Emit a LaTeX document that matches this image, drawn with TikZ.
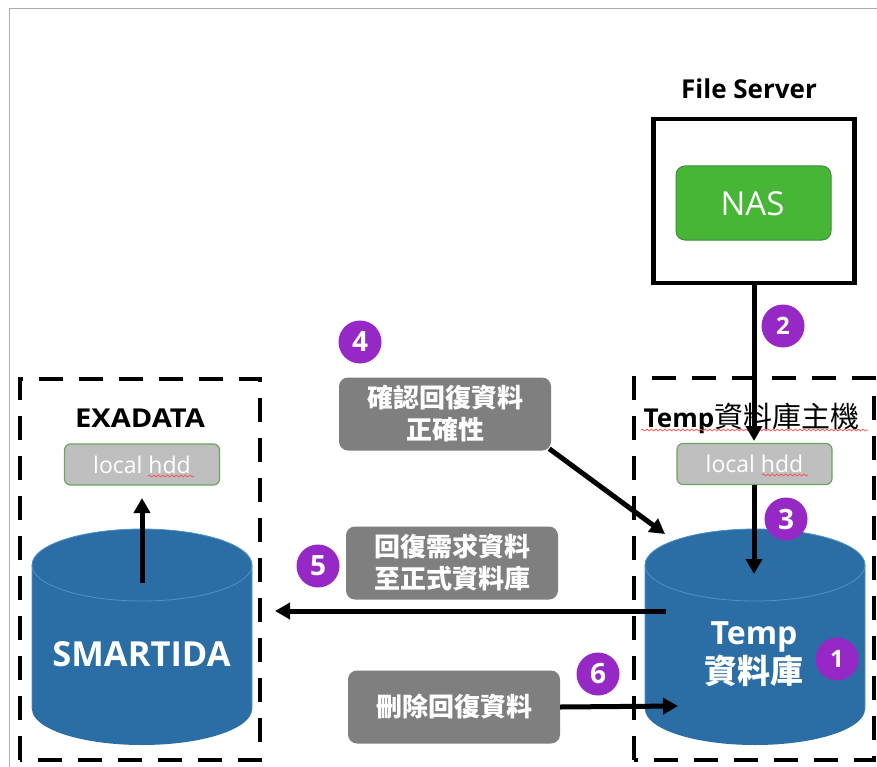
\documentclass[tikz,border=0pt]{standalone}
\usepackage{graphicx}
\usepackage{fontspec}
\setmainfont{Open Sans}
\newfontfamily\osans{Open Sans}
\newfontfamily\cjk{Noto Sans CJK TC}
\usetikzlibrary{arrows.meta,decorations.pathmorphing,calc}
\definecolor{cylblue}{HTML}{2A6EA5}
\definecolor{cyledge}{HTML}{4F93C4}
\definecolor{purp}{HTML}{9629C6}
\definecolor{nasgreen}{HTML}{47B535}
\definecolor{nasedge}{HTML}{3E8E3A}
\definecolor{stepgray}{HTML}{7F7F7F}
\definecolor{hddgray}{HTML}{BFBFBF}
\definecolor{hddedge}{HTML}{6BA55F}
\definecolor{pageedge}{HTML}{ABABAB}
\tikzset{
  x=1pt,y=-1pt,
  graybox/.style={fill=stepgray,rounded corners=9pt,text=white,font=\cjk\bfseries\fontsize{26}{32}\selectfont,align=center,inner sep=0pt,minimum height=73pt},
  hdd/.style={draw=hddedge,line width=1.2pt,fill=hddgray,rounded corners=6pt,minimum width=155pt,minimum height=41pt,inner sep=0pt,text=white,font=\fontsize{23}{24}\selectfont},
  badge/.style={circle,fill=purp,text=white,minimum size=43pt,inner sep=0pt,font=\bfseries\fontsize{28}{30}\selectfont},
  title/.style={inner sep=0pt,text=black,font=\bfseries\fontsize{26}{30}\selectfont},
  flow/.style={draw=black,line width=5pt,-{Triangle[length=15pt,width=16pt]}},
  squiggle/.style={draw=red!70!white,line width=0.7pt,decorate,decoration={snake,amplitude=0.9pt,segment length=4.5pt}},
}
\newcommand{\cyl}[4]{% left, right, top, bottom
  \fill[cylblue] (#1,#3+36) arc[start angle=180,end angle=360,x radius={(#2-#1)/2},y radius=36]
     -- (#2,#4-36) arc[start angle=0,end angle=180,x radius={(#2-#1)/2},y radius=36] -- cycle;
  \draw[cyledge,line width=0.8pt] (#1,#4-36) -- (#1,#3+36) arc[start angle=180,end angle=360,x radius={(#2-#1)/2},y radius=36] -- (#2,#4-36);
  \draw[cyledge,line width=0.8pt] (#1,#3+36) arc[start angle=180,end angle=0,x radius={(#2-#1)/2},y radius=36];
}
\begin{document}
\begin{tikzpicture}
\useasboundingbox (0,0) rectangle (877,767);
\fill[white] (0,0) rectangle (877,767);
% page edge
\draw[pageedge,line width=1.5pt] (877,8.5) -- (9.5,8.5) -- (9.5,767);

% cylinders
\cyl{32}{252}{529}{745}
\cyl{645}{865}{529}{745}
\node[inner sep=0pt,text=white,font=\bfseries\fontsize{34.5}{40}\selectfont] (smart) at (141.5,654) {SMARTIDA};
\node[inner sep=0pt,text=white,align=center,font=\cjk\bfseries\fontsize{33}{39}\selectfont] (temp) at (754,654.5) {{\osans\bfseries\fontsize{32}{39}\selectfont Temp}\\資料庫};

% dashed hosts
\draw[line width=4.8pt,dash pattern=on 24pt off 16pt] (20,760) -- (20,379) -- (260,379) -- (260,760) -- (20,760);
\draw[line width=4.8pt,dash pattern=on 24pt off 16pt] (634,760) -- (634,378) -- (874,378) -- (874,760) -- (634,760);

% titles
\node[title] (fs) at (749,89) {File Server};
\node[title] (exa) at (140,418) {\scalebox{1.12}[1]{EXADATA}};
\node[inner sep=0pt,text=black,font=\bfseries\fontsize{26}{30}\selectfont] (tmphost) at (751.5,418) {Temp{\cjk\mdseries\fontsize{29}{30}\selectfont 資料庫主機}};
\draw[squiggle] (641,430) -- (868,430);

% file server
\node[draw=black,line width=4.5pt,minimum width=201pt,minimum height=164pt,inner sep=0pt] (server) at (754,201) {};
\node[draw=nasedge,line width=1pt,fill=nasgreen,rounded corners=9pt,minimum width=155pt,minimum height=74pt,inner sep=0pt] (nas) at (753.5,203) {};
\node[inner sep=0pt,text=white,font=\fontsize{33}{36}\selectfont] (nastext) at (752.5,204) {NAS};

% hdd
\node[hdd] (hddL) at (142,464.5) {local hdd};
\node[hdd] (hddR) at (754.5,464) {local hdd};
\draw[squiggle] (148,476) -- (194,476);
\draw[squiggle] (762,475) -- (808,475);

% steps
\node[graybox,minimum width=212pt] (s4) at (445,414) {確認回復資料\\正確性};
\node[graybox,minimum width=212pt] (s5) at (452,563) {回復需求資料\\至正式資料庫};
\node[graybox,minimum width=212pt] (s6) at (454,707) {刪除回復資料};

% arrow anchors
\coordinate (a2end) at (754,441);
\coordinate (a3end) at (754,574);
\coordinate (a4end) at (665,534);
\coordinate (a5start) at (666,611);
\coordinate (a5end) at (275,611);
\coordinate (a6end) at (678,706);
\coordinate (aLstart) at (142,583);
\coordinate (aLend) at (142,498);

\draw[flow] (server.south -| a2end) -- (a2end);
\draw[flow] (hddR.south -| a3end) -- (a3end);
\draw[flow] (s4.south east) ++(-2,-2) -- (a4end);
\draw[flow] (a5start) -- (a5end);
\draw[flow] (s6.east) -- (a6end);
\draw[flow] (aLstart) -- (aLend);

% badges
\node[badge,font=\bfseries\fontsize{24}{28}\selectfont] (b1) at (837,659) {1};
\node[badge,font=\bfseries\fontsize{24}{28}\selectfont] (b2) at (783,326) {2};
\node[badge] (b3) at (786,519) {3};
\node[badge] (b4) at (360,342) {4};
\node[badge] (b5) at (318,566) {5};
\node[badge] (b6) at (598,674) {6};
\end{tikzpicture}
\end{document}
